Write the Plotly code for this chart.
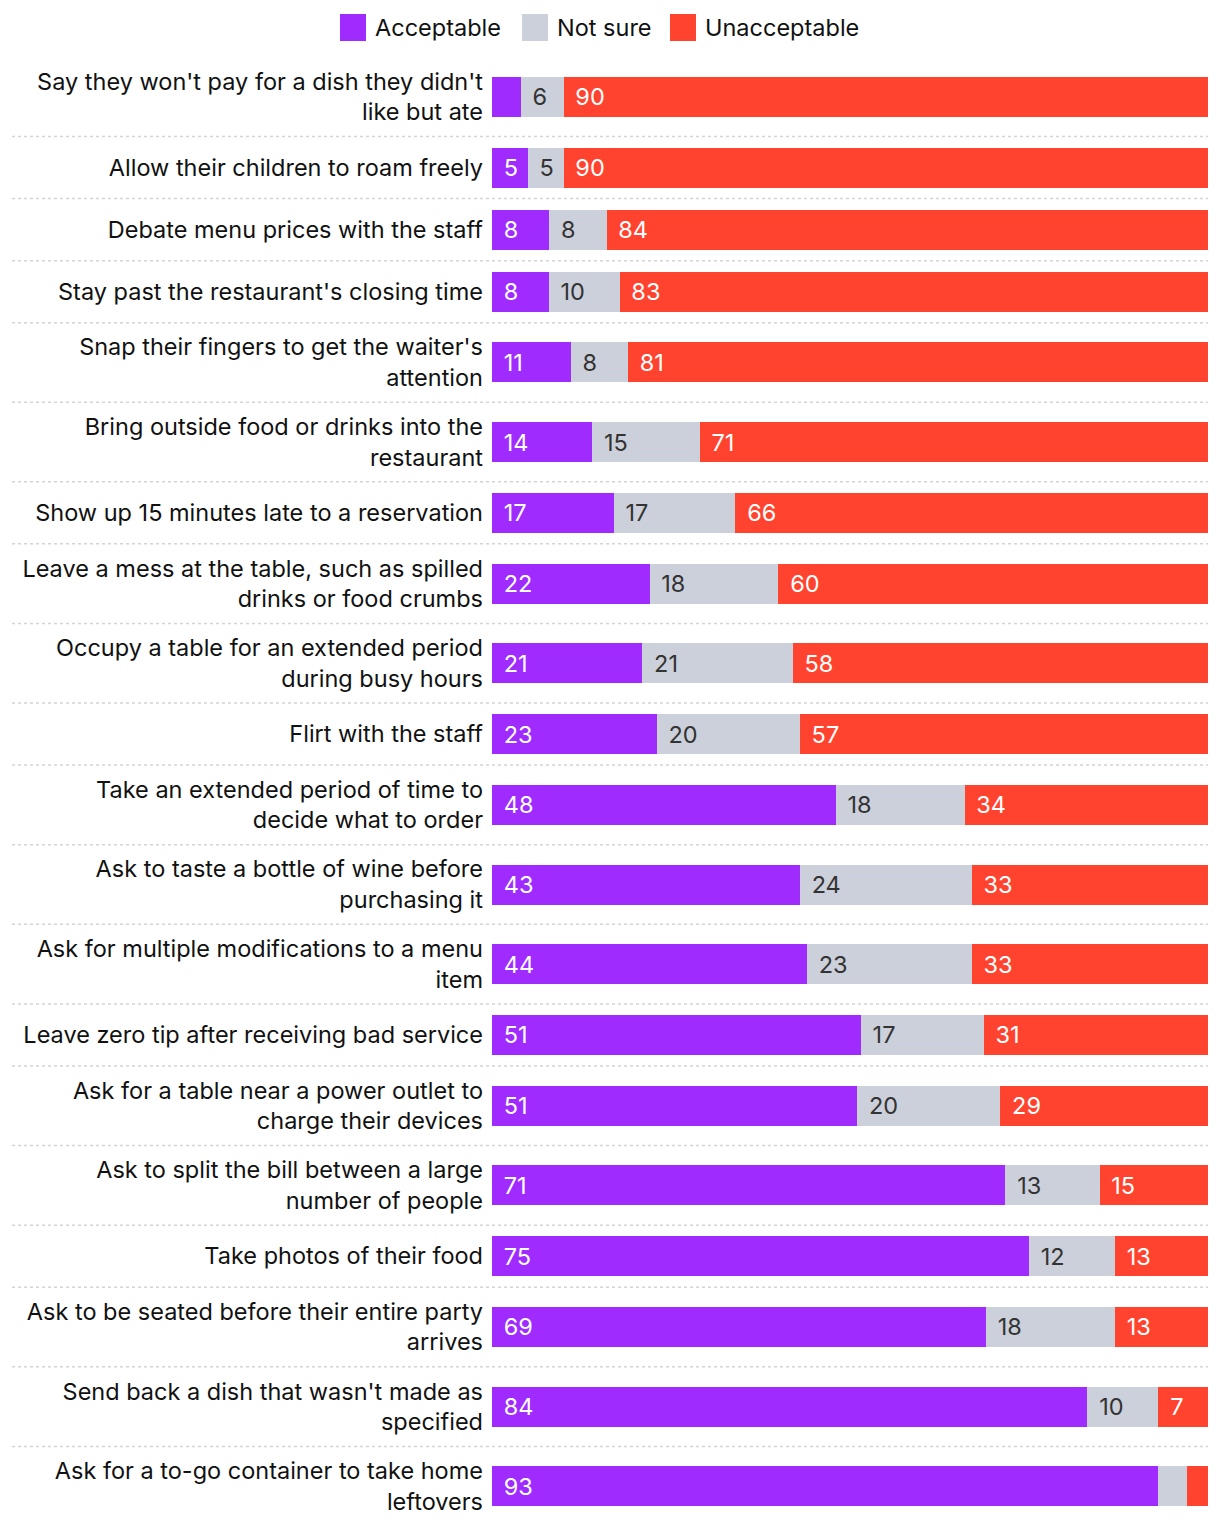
import plotly.graph_objects as go

categories = [
    "Say they won't pay for a dish they didn't<br>like but ate",
    "Allow their children to roam freely",
    "Debate menu prices with the staff",
    "Stay past the restaurant's closing time",
    "Snap their fingers to get the waiter's<br>attention",
    "Bring outside food or drinks into the<br>restaurant",
    "Show up 15 minutes late to a reservation",
    "Leave a mess at the table, such as spilled<br>drinks or food crumbs",
    "Occupy a table for an extended period<br>during busy hours",
    "Flirt with the staff",
    "Take an extended period of time to<br>decide what to order",
    "Ask to taste a bottle of wine before<br>purchasing it",
    "Ask for multiple modifications to a menu<br>item",
    "Leave zero tip after receiving bad service",
    "Ask for a table near a power outlet to<br>charge their devices",
    "Ask to split the bill between a large<br>number of people",
    "Take photos of their food",
    "Ask to be seated before their entire party<br>arrives",
    "Send back a dish that wasn't made as<br>specified",
    "Ask for a to-go container to take home<br>leftovers",
]

acceptable = [4, 5, 8, 8, 11, 14, 17, 22, 21, 23, 48, 43, 44, 51, 51, 71, 75, 69, 84, 93]
not_sure = [6, 5, 8, 10, 8, 15, 17, 18, 21, 20, 18, 24, 23, 17, 20, 13, 12, 18, 10, 4]
unacceptable = [90, 90, 84, 83, 81, 71, 66, 60, 58, 57, 34, 33, 33, 31, 29, 15, 13, 13, 7, 3]

series_names = ["Acceptable", "Not sure", "Unacceptable"]
series_colors = ["#A02BFF", "#CCD0DA", "#FF432E"]
text_colors = ["#ffffff", "#333333", "#ffffff"]

FONT = "Inter"
FSIZE = 23.5
ONE_LINE_H = 62
TWO_LINE_H = 79.6
BAR_H = 40

# row layout from label line counts
heights = [TWO_LINE_H if "<br>" in c else ONE_LINE_H for c in categories]
tops = []
acc = 0
for h in heights:
    tops.append(acc)
    acc += h
centers = [t + h / 2 for t, h in zip(tops, heights)]
total = acc

fig = go.Figure()
for name, vals, col, tcol in zip(series_names, [acceptable, not_sure, unacceptable], series_colors, text_colors):
    fig.add_trace(go.Bar(
        y=centers, x=vals, orientation="h", name=name,
        marker=dict(color=col, line=dict(width=0)),
        width=BAR_H,
        text=[("\u00a0\u200a" + str(v)) if v >= 5 else "" for v in vals],
        textposition="inside", insidetextanchor="start",
        textfont=dict(family=FONT, size=FSIZE, color=tcol),
        showlegend=False,
        hovertemplate=name + ": %{x}<extra></extra>",
    ))

W, H = 1220, 1526
ML, MR, MT, MB = 492, 12, 57, 0
plot_w = W - ML - MR
plot_h = H - MT - MB

shapes = []
for t in tops[1:]:
    shapes.append(dict(type="line", xref="paper", yref="y",
                       x0=(12 - ML) / plot_w, x1=1, y0=t, y1=t,
                       line=dict(color="#d4d4d4", width=1.5, dash="dot"),
                       layer="below"))

# manual legend (top, centered)
annotations = []
legend_x = [340, 522, 670]
for name, col, lx in zip(series_names, series_colors, legend_x):
    shapes.append(dict(type="rect", xref="paper", yref="paper",
                       x0=(lx - ML) / plot_w, x1=(lx + 26 - ML) / plot_w,
                       y0=1 + (MT - 14) / plot_h, y1=1 + (MT - 41) / plot_h,
                       fillcolor=col, line=dict(width=0)))
    annotations.append(dict(xref="paper", yref="paper",
                            x=(lx + 33 - ML) / plot_w, y=1 + (MT - 27) / plot_h,
                            xanchor="left", yanchor="middle", text=name, showarrow=False,
                            font=dict(family=FONT, size=FSIZE, color="#111111")))

fig.update_layout(
    barmode="stack", barnorm="percent",
    width=W, height=H,
    margin=dict(l=ML, r=MR, t=MT, b=MB, pad=0),
    paper_bgcolor="white", plot_bgcolor="white",
    font=dict(family=FONT, size=FSIZE, color="#111111"),
    uniformtext=dict(minsize=FSIZE, mode="show"),
    xaxis=dict(range=[0, 100], visible=False, fixedrange=True),
    yaxis=dict(range=[total, 0], tickvals=centers, ticktext=categories,
               showgrid=False, zeroline=False, showline=False, ticks="",
               ticklabelstandoff=8, tickfont=dict(family=FONT, size=FSIZE, color="#111111")),
    shapes=shapes, annotations=annotations,
    showlegend=False,
)

fig.write_html("out.html")
